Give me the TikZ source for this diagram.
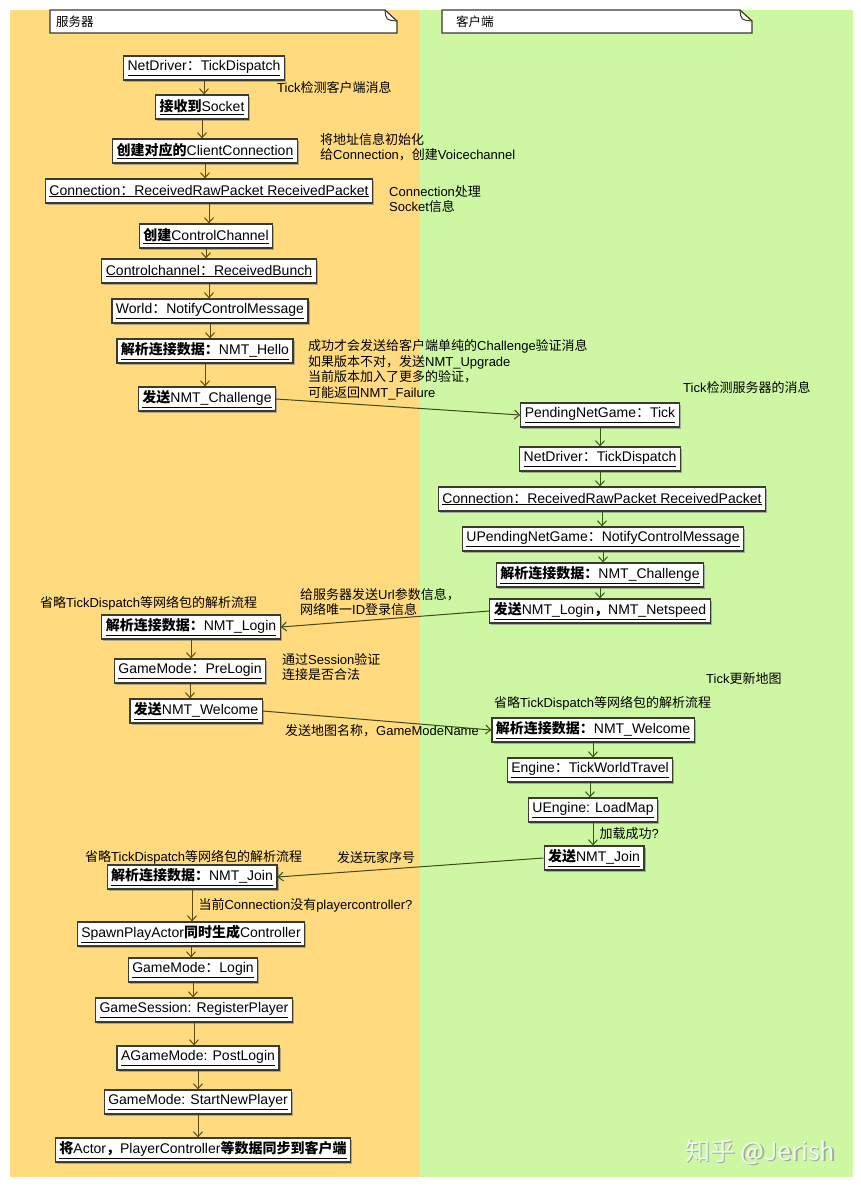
\documentclass[tikz,border=0pt]{standalone}
\usepackage{fontspec}
\setmainfont{Liberation Sans}
\newfontfamily\cjk{Noto Sans CJK SC}
\usetikzlibrary{arrows.meta,shadows}

\definecolor{srvbg}{HTML}{FFDA7E}
\definecolor{clibg}{HTML}{CDF7A3}
\definecolor{boxline}{HTML}{3A3A30}
\definecolor{srvflow}{HTML}{5C4B0E}
\definecolor{cliflow}{HTML}{2E5B12}
\definecolor{crossflow}{HTML}{3E4A1A}

\newcommand\zh[1]{{\cjk #1}}
\newcommand\zb[1]{{\cjk\bfseries #1}}

\tikzset{
  box/.style={draw=boxline, line width=1.2pt, fill=white, inner xsep=4pt, inner ysep=0pt,
    minimum height=24pt, font=\fontsize{14}{16}\selectfont,
    drop shadow={shadow xshift=1.6pt, shadow yshift=-1.6pt, fill=black!50, opacity=.6}},
  remark/.style={font=\fontsize{13}{15.5}\selectfont, align=left, inner sep=0pt, anchor=west},
  flow/.style={-{Straight Barb[length=5pt,width=9pt]}, line width=1pt, draw=srvflow},
  cflow/.style={flow, draw=cliflow},
  xflow/.style={flow, draw=crossflow},
  lane/.style={draw=boxline, line width=1.2pt, fill=white}
}

\begin{document}
\begin{tikzpicture}[x=1pt,y=-1pt]
  \useasboundingbox (0,0) rectangle (860,1188);
  % swim lanes
  \fill[srvbg] (10,10) rectangle (420,1177);
  \fill[clibg] (420,10) rectangle (853,1177);
  \draw[lane] (50,10) -- (385,10) -- (397,21) -- (397,33) -- (50,33) -- cycle;
  \draw[boxline, line width=1pt] (385,10) .. controls (386,20) .. (397,21);
  \node[remark, font=\fontsize{12.5}{14}\selectfont] (srvtitle) at (56,22) {\zh{服务器}};
  \draw[lane] (442,10) -- (740,10) -- (752,21) -- (752,33) -- (442,33) -- cycle;
  \draw[boxline, line width=1pt] (740,10) .. controls (741,20) .. (752,21);
  \node[remark, font=\fontsize{12.5}{14}\selectfont] (clititle) at (456,22) {\zh{客户端}};

  % server side
  \node[box] (srvtick) at (204,68) {\underline{NetDriver\zh{：}TickDispatch}};
  \node[box] (srvsock) at (202,107) {\underline{\zb{接收到}Socket}};
  \node[box] (srvconn) at (205,151) {\underline{\zb{创建对应的}ClientConnection}};
  \node[box] (srvpkt) at (209,191) {\underline{Connection\zh{：}ReceivedRawPacket ReceivedPacket}};
  \node[box] (srvctrl) at (206,236) {\underline{\zb{创建}ControlChannel}};
  \node[box] (srvbunch) at (209,271) {\underline{Controlchannel\zh{：}ReceivedBunch}};
  \node[box] (srvnotify) at (210,311) {\underline{World\zh{：}NotifyControlMessage}};
  \node[box] (srvhello) at (205,351) {\underline{\zb{解析连接数据：}NMT\_Hello}};
  \node[box] (srvchal) at (207,399) {\underline{\zb{发送}NMT\_Challenge}};
  \node[box] (srvlogin) at (191,627) {\underline{\zb{解析连接数据：}NMT\_Login}};
  \node[box] (srvprelog) at (190,671) {\underline{GameMode\zh{：}PreLogin}};
  \node[box] (srvwelcome) at (196,711) {\underline{\zb{发送}NMT\_Welcome}};
  \node[box] (srvjoin) at (192,877) {\underline{\zb{解析连接数据：}NMT\_Join}};
  \node[box] (srvspawn) at (191,934) {\underline{SpawnPlayActor\zb{同时生成}Controller}};
  \node[box] (srvgmlogin) at (193,970) {\underline{GameMode\zh{：}Login}};
  \node[box] (srvregister) at (194,1010) {\underline{GameSession: RegisterPlayer}};
  \node[box] (srvpost) at (198,1058) {\underline{AGameMode: PostLogin}};
  \node[box] (srvstart) at (198,1102) {\underline{GameMode: StartNewPlayer}};
  \node[box] (srvsync) at (203,1150) {\underline{\zb{将}Actor\zb{，}PlayerController\zb{等数据同步到客户端}}};

  % client side
  \node[box] (clipend) at (600,415) {\underline{PendingNetGame\zh{：}Tick}};
  \node[box] (clitick) at (600,459) {\underline{NetDriver\zh{：}TickDispatch}};
  \node[box] (clipkt) at (602,499) {\underline{Connection\zh{：}ReceivedRawPacket ReceivedPacket}};
  \node[box] (clinotify) at (603,539) {\underline{UPendingNetGame\zh{：}NotifyControlMessage}};
  \node[box] (clichal) at (600,575) {\underline{\zb{解析连接数据：}NMT\_Challenge}};
  \node[box] (clilogin) at (600,611) {\underline{\zb{发送}NMT\_Login\zb{，}NMT\_Netspeed}};
  \node[box] (cliwelcome) at (593,730) {\underline{\zb{解析连接数据：}NMT\_Welcome}};
  \node[box] (clitravel) at (590,770) {\underline{Engine\zh{：}TickWorldTravel}};
  \node[box] (climap) at (593,810) {\underline{UEngine: LoadMap}};
  \node[box] (clijoin) at (594,858) {\underline{\zb{发送}NMT\_Join}};

  % remarks
  \node[remark] (rmtick) at (277,88) {Tick\zh{检测客户端消息}};
  \node[remark] (rmaddr) at (320,147) {\zh{将地址信息初始化}\\\zh{给}Connection\zh{，创建}Voicechannel};
  \node[remark] (rmsock) at (389,199) {Connection\zh{处理}\\Socket\zh{信息}};
  \node[remark] (rmhello) at (308,370) {\zh{成功才会发送给客户端单纯的}Challenge\zh{验证消息}\\
    \zh{如果版本不对，发送}NMT\_Upgrade\\\zh{当前版本加入了更多的验证，}\\\zh{可能返回}NMT\_Failure};
  \node[remark] (rmclitick) at (683,387) {Tick\zh{检测服务器的消息}};
  \node[remark] (rmurl) at (300,602) {\zh{给服务器发送}Url\zh{参数信息，}\\\zh{网络唯一}ID\zh{登录信息}};
  \node[remark] (rmskip1) at (40,603) {\zh{省略}TickDispatch\zh{等网络包的解析流程}};
  \node[remark] (rmsession) at (282,667) {\zh{通过}Session\zh{验证}\\\zh{连接是否合法}};
  \node[remark] (rmmap) at (706,679) {Tick\zh{更新地图}};
  \node[remark] (rmskip2) at (494,703) {\zh{省略}TickDispatch\zh{等网络包的解析流程}};
  \node[remark] (rmmapname) at (285,731) {\zh{发送地图名称，}GameModeName};
  \node[remark] (rmplayer) at (337,858) {\zh{发送玩家序号}};
  \node[remark] (rmskip3) at (85,857) {\zh{省略}TickDispatch\zh{等网络包的解析流程}};

  % server flow
  \draw[flow] (srvtick) -- (srvtick |- srvsock.north);
  \draw[flow] (srvsock) -- (srvsock |- srvconn.north);
  \draw[flow] (srvconn) -- (srvconn |- srvpkt.north);
  \draw[flow] (srvpkt) -- (srvpkt |- srvctrl.north);
  \draw[flow] (srvctrl) -- (srvctrl |- srvbunch.north);
  \draw[flow] (srvbunch) -- (srvbunch |- srvnotify.north);
  \draw[flow] (srvnotify) -- (srvnotify |- srvhello.north);
  \draw[flow] (srvhello) -- (srvhello |- srvchal.north);
  \draw[flow] (srvlogin) -- (srvlogin |- srvprelog.north);
  \draw[flow] (srvprelog) -- (srvprelog |- srvwelcome.north);
  \draw[flow] (srvjoin) -- (srvjoin |- srvspawn.north)
    node[remark, midway, xshift=6pt] {\zh{当前}Connection\zh{没有}playercontroller?};
  \draw[flow] (srvspawn) -- (srvspawn |- srvgmlogin.north);
  \draw[flow] (srvgmlogin) -- (srvgmlogin |- srvregister.north);
  \draw[flow] (srvregister) -- (srvregister |- srvpost.north);
  \draw[flow] (srvpost) -- (srvpost |- srvstart.north);
  \draw[flow] (srvstart) -- (srvstart |- srvsync.north);

  % client flow
  \draw[cflow] (clipend) -- (clipend |- clitick.north);
  \draw[cflow] (clitick) -- (clitick |- clipkt.north);
  \draw[cflow] (clipkt) -- (clipkt |- clinotify.north);
  \draw[cflow] (clinotify) -- (clinotify |- clichal.north);
  \draw[cflow] (clichal) -- (clichal |- clilogin.north);
  \draw[cflow] (cliwelcome) -- (cliwelcome |- clitravel.north);
  \draw[cflow] (clitravel) -- (clitravel |- climap.north);
  \draw[cflow] (climap) -- (climap |- clijoin.north)
    node[remark, midway, xshift=6pt] {\zh{加载成功}?};

  % messages between the two sides
  \draw[xflow] (srvchal.east) -- (clipend.west);
  \draw[xflow] (clilogin.west) -- (srvlogin.east);
  \draw[xflow] (srvwelcome.east) -- (cliwelcome.west);
  \draw[xflow] (clijoin.west) -- (srvjoin.east);

  % watermark
  \node[text=black!35, font=\cjk\fontsize{25}{28}\selectfont] (markshadow) at (761.5,1153.5) {知乎 @Jerish};
  \node[text=white!92!green, font=\cjk\fontsize{25}{28}\selectfont] (mark) at (760,1152) {知乎 @Jerish};
\end{tikzpicture}
\end{document}
